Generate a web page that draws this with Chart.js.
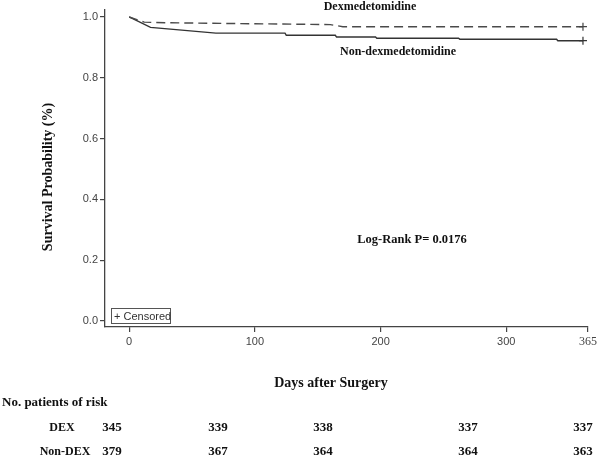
<!DOCTYPE html>
<html><head><meta charset="utf-8">
<script src="https://cdn.jsdelivr.net/npm/chart.js@4"></script>
<style>html,body{margin:0;padding:0;background:#fff}</style>
</head><body>
<canvas id="c" width="600" height="469"></canvas>
<script>
const dexDays = [0, 12, 30, 160, 170, 361];
const dexSurv = [1.0, 0.983, 0.981, 0.975, 0.968, 0.968];
const nonDexDays = [0, 17, 69, 124, 125, 164, 165, 196, 197, 262, 263, 340, 341, 361];
const nonDexSurv = [1.0, 0.966, 0.947, 0.947, 0.940, 0.940, 0.934, 0.934, 0.930, 0.930, 0.927, 0.927, 0.922, 0.922];
const xTicks = [0, 100, 200, 300, 365];
const yTicks = [0, 0.2, 0.4, 0.6, 0.8, 1.0];
const riskGroups = ['DEX', 'Non-DEX'];
const dexRisk = [345, 339, 338, 337, 337];
const nonDexRisk = [379, 367, 364, 364, 363];

const toPts = (xs, ys) => xs.map((x, i) => ({x: x, y: ys[i]}));
const SERIF = '"Liberation Serif", "Times New Roman", serif';
const SANS = '"Liberation Sans", Arial, sans-serif';

const textPlugin = {
  id: 'texts',
  afterDraw(chart) {
    const ctx = chart.ctx;
    ctx.save();
    ctx.fillStyle = '#111';
    ctx.textBaseline = 'middle';
    // y title
    ctx.save();
    ctx.translate(48, 177);
    ctx.rotate(-Math.PI / 2);
    ctx.textAlign = 'center';
    ctx.font = 'bold 14px ' + SERIF;
    ctx.fillText('Survival Probability (%)', 0, 0);
    ctx.restore();
    // x title
    ctx.textAlign = 'center';
    ctx.font = 'bold 14px ' + SERIF;
    ctx.fillText('Days after Surgery', 331, 383);
    // curve labels
    ctx.font = 'bold 12px ' + SERIF;
    ctx.fillText('Dexmedetomidine', 370, 7);
    ctx.fillText('Non-dexmedetomidine', 398, 52);
    ctx.font = 'bold 12.5px ' + SERIF;
    ctx.fillText('Log-Rank P= 0.0176', 412, 240);
    // censored box
    ctx.strokeStyle = '#555';
    ctx.lineWidth = 1;
    ctx.strokeRect(111.5, 308.5, 59, 15);
    ctx.font = '11px ' + SANS;
    ctx.fillStyle = '#333';
    ctx.textAlign = 'left';
    ctx.fillText('+ Censored', 114, 316.5);
    // risk table
    ctx.fillStyle = '#111';
    ctx.font = 'bold 13px ' + SERIF;
    ctx.textAlign = 'left';
    ctx.fillText('No. patients of risk', 2, 403);
    ctx.textAlign = 'center';
    ctx.font = 'bold 12px ' + SERIF;
    ctx.fillText(riskGroups[0], 62, 428);
    ctx.fillText(riskGroups[1], 65, 452);
    const cols = [112, 218, 323, 468, 583];
    ctx.font = 'bold 13px ' + SERIF;
    dexRisk.forEach((v, i) => ctx.fillText(String(v), cols[i], 428));
    nonDexRisk.forEach((v, i) => ctx.fillText(String(v), cols[i], 452));
    ctx.restore();
  }
};

const lastCross = (n) => (c) => c.dataIndex === n - 1 ? 4 : 0;

new Chart(document.getElementById('c'), {
  type: 'line',
  data: {
    datasets: [
      {
        label: 'Dexmedetomidine',
        data: toPts(dexDays, dexSurv),
        borderColor: '#4a4a4a',
        borderWidth: 1.4,
        borderDash: [9, 5],
        pointStyle: 'cross',
        pointRadius: lastCross(dexDays.length),
        pointBorderColor: '#444',
        pointBorderWidth: 1.2,
        fill: false,
        tension: 0
      },
      {
        label: 'Non-dexmedetomidine',
        data: toPts(nonDexDays, nonDexSurv),
        borderColor: '#333',
        borderWidth: 1.4,
        pointStyle: 'cross',
        pointRadius: lastCross(nonDexDays.length),
        pointBorderColor: '#333',
        pointBorderWidth: 1.2,
        fill: false,
        tension: 0
      }
    ]
  },
  options: {
    responsive: false,
    animation: false,
    devicePixelRatio: 1,
    layout: {padding: {left: 0, right: 8, top: 10, bottom: 0}},
    plugins: {legend: {display: false}, tooltip: {enabled: false}},
    scales: {
      x: {
        type: 'linear',
        min: -19.2,
        max: 365,
        afterBuildTicks: (s) => { s.ticks = xTicks.map(v => ({value: v})); },
        afterFit: (s) => { s.height = 142; },
        border: {display: true, color: '#444', width: 1.3},
        grid: {display: true, drawOnChartArea: false, drawTicks: true, tickLength: 5, color: '#444', lineWidth: 1.2},
        ticks: {
          color: '#444',
          padding: 3,
          maxRotation: 0,
          autoSkip: false,
          font: (c) => (c.tick && c.tick.value === 365) ? {family: SERIF, size: 12} : {family: SANS, size: 11}
        }
      },
      y: {
        min: -0.0197,
        max: 1.023,
        afterBuildTicks: (s) => { s.ticks = yTicks.map(v => ({value: v})); },
        afterFit: (s) => { s.width = 105; },
        border: {display: true, color: '#444', width: 1.3},
        grid: {display: true, drawOnChartArea: false, drawTicks: true, tickLength: 5, color: '#444', lineWidth: 1.2},
        ticks: {
          color: '#444',
          padding: 2,
          font: {family: SANS, size: 11},
          callback: (v) => Number(v).toFixed(1)
        }
      }
    }
  },
  plugins: [textPlugin]
});
</script>
</body></html>
